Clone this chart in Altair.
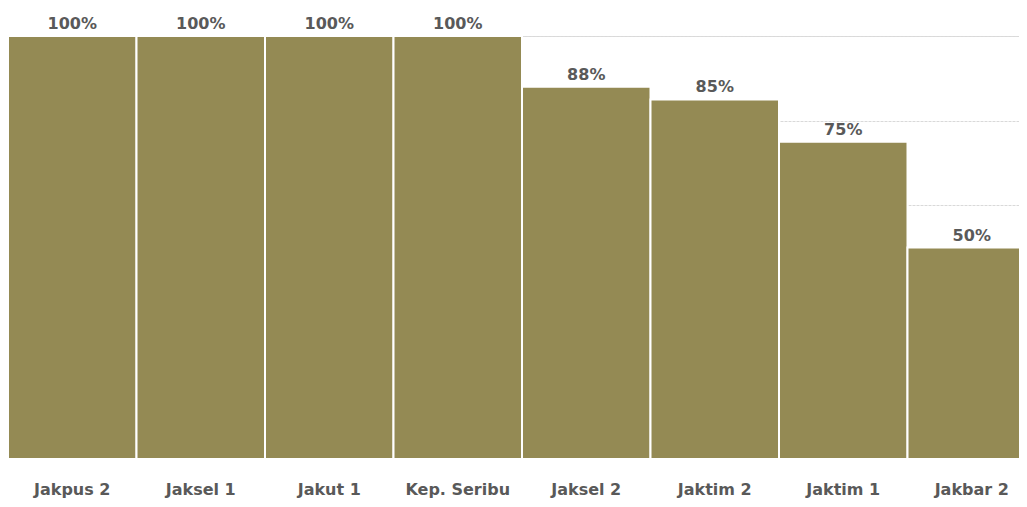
import altair as alt
import pandas as pd

categories = ["Jakpus 2", "Jaksel 1", "Jakut 1", "Kep. Seribu", "Jaksel 2", "Jaktim 2", "Jaktim 1", "Jakbar 2"]
values = [1.00, 1.00, 1.00, 1.00, 0.88, 0.85, 0.75, 0.50]
labels = ["100%", "100%", "100%", "100%", "88%", "85%", "75%", "50%"]

df = pd.DataFrame({"cat": categories, "val": values, "lbl": labels})

FONT = "DejaVu Sans"
TXT = "#595959"

xscale = alt.Scale(range=[0, 1028], paddingInner=0, paddingOuter=0)

x = alt.X("cat:N", sort=categories, title=None, scale=xscale,
          axis=alt.Axis(labelAngle=0, labelFont=FONT, labelFontSize=16, labelFontWeight="bold",
                        labelColor=TXT, ticks=False, domain=True, domainColor="#D9D9D9",
                        labelPadding=22, grid=False))
y = alt.Y("val:Q", title=None,
          scale=alt.Scale(domain=[0, 1], nice=False),
          axis=alt.Axis(values=[0, 0.2, 0.4, 0.6, 0.8, 1.0], labels=False, ticks=False, domain=False,
                        grid=True, gridColor="#D9D9D9", gridWidth=1, gridDash=[3, 1]))

bars = alt.Chart(df).mark_bar(color="#948A54", stroke="#FFFFFF", strokeWidth=2).encode(x=x, y=y)
text = alt.Chart(df).mark_text(baseline="alphabetic", dy=-7, font=FONT, fontSize=16, fontWeight="bold",
                               color=TXT).encode(
    x=alt.X("cat:N", sort=categories, scale=xscale), y="val:Q", text="lbl:N")

chart = alt.layer(bars, text).properties(
    width=1011, height=423,
    autosize=alt.AutoSizeParams(type="none"),
    padding={"left": 0, "top": 28, "right": 0, "bottom": 40},
).configure_view(stroke=None).configure(background="white")

chart.save("out.html", embed_options={"renderer": "svg", "actions": False})
